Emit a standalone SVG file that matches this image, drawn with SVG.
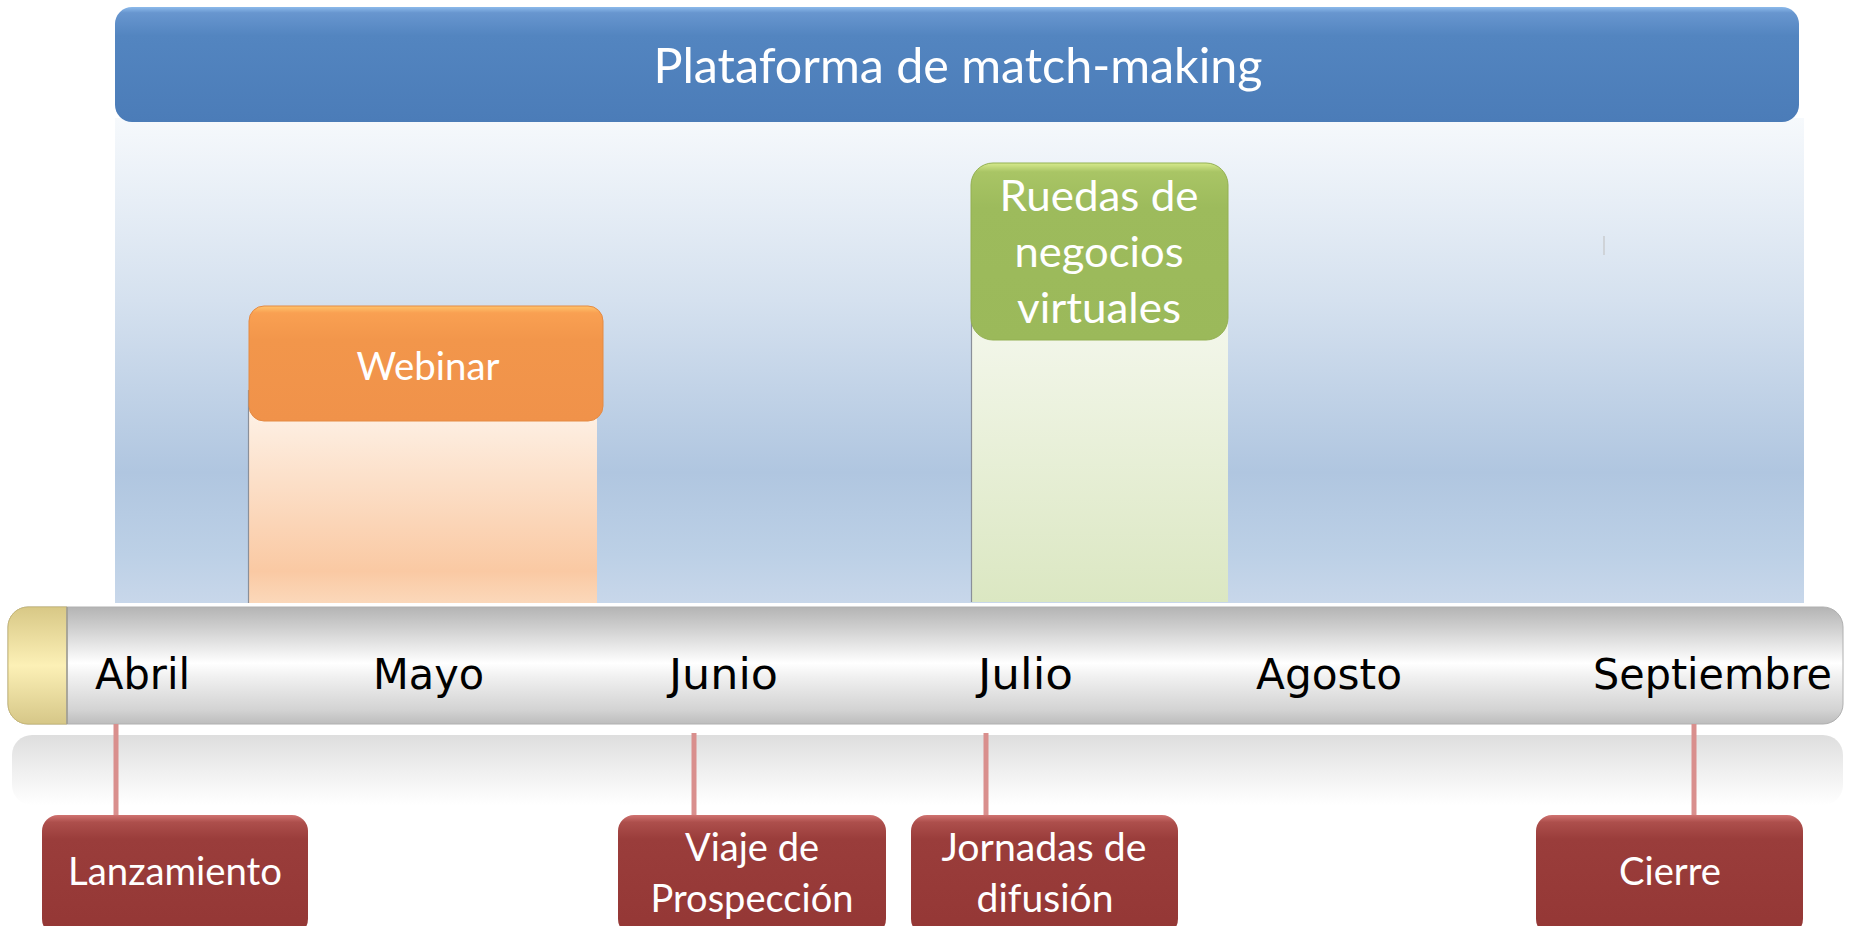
<svg xmlns="http://www.w3.org/2000/svg" width="1856" height="926" viewBox="0 0 1856 926">
  <defs>
    <linearGradient id="gPanel" x1="0" y1="0" x2="0" y2="1">
      <stop offset="0" stop-color="#f6f9fc"/>
      <stop offset="0.375" stop-color="#d5e1ef"/>
      <stop offset="0.73" stop-color="#b0c6e0"/>
      <stop offset="0.9" stop-color="#bcd0e6"/>
      <stop offset="1" stop-color="#c8d7ea"/>
    </linearGradient>
    <linearGradient id="gHeader" x1="0" y1="0" x2="0" y2="1">
      <stop offset="0" stop-color="#8cbaeb"/>
      <stop offset="0.05" stop-color="#6896cf"/>
      <stop offset="0.25" stop-color="#5385c0"/>
      <stop offset="1" stop-color="#4b7cb8"/>
    </linearGradient>
    <linearGradient id="gOrange" x1="0" y1="0" x2="0" y2="1">
      <stop offset="0" stop-color="#ffc46c"/>
      <stop offset="0.06" stop-color="#f9a052"/>
      <stop offset="0.3" stop-color="#f2964b"/>
      <stop offset="1" stop-color="#f0924a"/>
    </linearGradient>
    <linearGradient id="gGreen" x1="0" y1="0" x2="0" y2="1">
      <stop offset="0" stop-color="#d6ea8c"/>
      <stop offset="0.05" stop-color="#a9c565"/>
      <stop offset="0.25" stop-color="#9dbb5c"/>
      <stop offset="1" stop-color="#9bb95a"/>
    </linearGradient>
    <linearGradient id="gRed" x1="0" y1="0" x2="0" y2="1">
      <stop offset="0" stop-color="#d07371"/>
      <stop offset="0.06" stop-color="#ad4f4c"/>
      <stop offset="0.2" stop-color="#9a3d3b"/>
      <stop offset="1" stop-color="#943735"/>
    </linearGradient>
    <linearGradient id="gOrangeCol" x1="0" y1="0" x2="0" y2="1">
      <stop offset="0" stop-color="#fef6ee"/>
      <stop offset="0.85" stop-color="#fac9a3"/>
      <stop offset="1" stop-color="#fbd8ba"/>
    </linearGradient>
    <linearGradient id="gGreenCol" x1="0" y1="0" x2="0" y2="1">
      <stop offset="0" stop-color="#f5f8ee"/>
      <stop offset="1" stop-color="#dbe7c2"/>
    </linearGradient>
    <linearGradient id="gBar" x1="0" y1="0" x2="0" y2="1">
      <stop offset="0" stop-color="#b4b4b4"/>
      <stop offset="0.2" stop-color="#d2d2d2"/>
      <stop offset="0.48" stop-color="#ffffff"/>
      <stop offset="0.6" stop-color="#f0f0f0"/>
      <stop offset="0.88" stop-color="#d3d3d3"/>
      <stop offset="1" stop-color="#bdbdbd"/>
    </linearGradient>
    <linearGradient id="gCap" x1="0" y1="0" x2="0" y2="1">
      <stop offset="0" stop-color="#d8c886"/>
      <stop offset="0.5" stop-color="#fcf0b6"/>
      <stop offset="1" stop-color="#d6c788"/>
    </linearGradient>
    <linearGradient id="gRefl" x1="0" y1="0" x2="0" y2="1">
      <stop offset="0" stop-color="#dedede"/>
      <stop offset="0.5" stop-color="#efefef"/>
      <stop offset="1" stop-color="#ffffff"/>
    </linearGradient>
    <style>
      .lbl { font-family: "Lato", "Open Sans", sans-serif; fill: #ffffff; text-anchor: middle; }
      .month { font-family: "DejaVu Sans", "Liberation Sans", sans-serif; font-size: 43px; fill: #000000; text-anchor: middle; }
      .conn { stroke: #d98f8d; stroke-width: 5; fill: none; }
      .col-edge { stroke: #8a8f99; stroke-width: 1.2; }
    </style>
  </defs>

  <g id="panel">
    <rect x="115" y="118" width="1689" height="485" fill="url(#gPanel)"/>
    <line x1="1604" y1="236" x2="1604" y2="255" stroke="#cfd3d8" stroke-width="2"/>
  </g>

  <g id="webinar">
    <rect x="248" y="390" width="349" height="213" fill="url(#gOrangeCol)"/>
    <line class="col-edge" x1="248.5" y1="390" x2="248.5" y2="603"/>
    <rect x="249" y="306" width="354" height="115" rx="15" fill="url(#gOrange)" stroke="#e58a43" stroke-width="1"/>
    <text class="lbl" x="428" y="380" font-size="39" textLength="143" lengthAdjust="spacingAndGlyphs">Webinar</text>
  </g>

  <g id="ruedas">
    <rect x="971" y="300" width="257" height="302" fill="url(#gGreenCol)"/>
    <line class="col-edge" x1="971.5" y1="300" x2="971.5" y2="602"/>
    <rect x="971" y="163" width="257" height="177" rx="22" fill="url(#gGreen)" stroke="#93b052" stroke-width="1"/>
    <text class="lbl" x="1099" y="211" font-size="43" textLength="199" lengthAdjust="spacingAndGlyphs">Ruedas de</text>
    <text class="lbl" x="1099" y="267" font-size="43" textLength="169" lengthAdjust="spacingAndGlyphs">negocios</text>
    <text class="lbl" x="1099" y="323" font-size="43" textLength="164" lengthAdjust="spacingAndGlyphs">virtuales</text>
  </g>

  <g id="header">
    <rect x="115" y="7" width="1684" height="115" rx="17" fill="url(#gHeader)"/>
    <text class="lbl" x="958" y="83" font-size="49" textLength="609" lengthAdjust="spacingAndGlyphs">Plataforma de match-making</text>
  </g>

  <g id="timeline">
    <rect x="12" y="735" width="1831" height="70" rx="20" fill="url(#gRefl)"/>
    <rect x="8" y="607" width="1835" height="117" rx="20" fill="url(#gBar)" stroke="#b0b0b0" stroke-width="1"/>
    <path d="M67,607 L28,607 A20,20 0 0 0 8,627 L8,704 A20,20 0 0 0 28,724 L67,724 Z" fill="url(#gCap)" stroke="#c9b977" stroke-width="1"/>
    <line x1="67" y1="607" x2="67" y2="724" stroke="#9a9a9a" stroke-width="1.5"/>
    <text class="month" x="142.5" y="689" textLength="95" lengthAdjust="spacingAndGlyphs">Abril</text>
    <text class="month" x="428.5" y="689" textLength="111" lengthAdjust="spacingAndGlyphs">Mayo</text>
    <text class="month" x="723.5" y="689" textLength="109" lengthAdjust="spacingAndGlyphs">Junio</text>
    <text class="month" x="1025.5" y="689" textLength="95" lengthAdjust="spacingAndGlyphs">Julio</text>
    <text class="month" x="1329" y="689" textLength="146" lengthAdjust="spacingAndGlyphs">Agosto</text>
    <text class="month" x="1712.5" y="689" textLength="239" lengthAdjust="spacingAndGlyphs">Septiembre</text>
  </g>

  <g id="connectors">
    <line class="conn" x1="116" y1="724" x2="116" y2="816"/>
    <line class="conn" x1="694" y1="733" x2="694" y2="816"/>
    <line class="conn" x1="986" y1="733" x2="986" y2="816"/>
    <line class="conn" x1="1694" y1="724" x2="1694" y2="816"/>
  </g>

  <g id="lanzamiento">
    <rect x="42" y="815" width="266" height="120" rx="16" fill="url(#gRed)"/>
    <text class="lbl" x="175" y="885" font-size="38" textLength="214" lengthAdjust="spacingAndGlyphs">Lanzamiento</text>
  </g>

  <g id="viaje">
    <rect x="618" y="815" width="268" height="120" rx="16" fill="url(#gRed)"/>
    <text class="lbl" x="752" y="861" font-size="38" textLength="134" lengthAdjust="spacingAndGlyphs">Viaje de</text>
    <text class="lbl" x="752" y="912" font-size="38" textLength="203" lengthAdjust="spacingAndGlyphs">Prospección</text>
  </g>

  <g id="jornadas">
    <rect x="911" y="815" width="267" height="120" rx="16" fill="url(#gRed)"/>
    <text class="lbl" x="1044" y="861" font-size="38" textLength="205" lengthAdjust="spacingAndGlyphs">Jornadas de</text>
    <text class="lbl" x="1045" y="912" font-size="38" textLength="137" lengthAdjust="spacingAndGlyphs">difusión</text>
  </g>

  <g id="cierre">
    <rect x="1536" y="815" width="267" height="120" rx="16" fill="url(#gRed)"/>
    <text class="lbl" x="1670" y="885" font-size="38" textLength="102" lengthAdjust="spacingAndGlyphs">Cierre</text>
  </g>
</svg>
